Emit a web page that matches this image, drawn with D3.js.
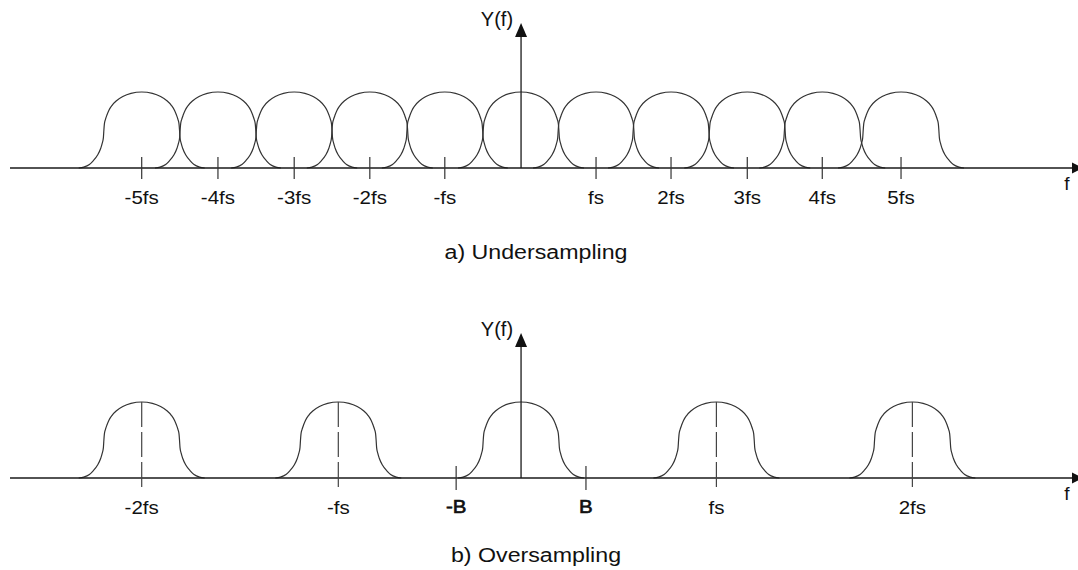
<!DOCTYPE html>
<html>
<head>
<meta charset="utf-8">
<script src="https://cdn.jsdelivr.net/npm/d3@7"></script>
<style>
  body { margin: 0; background: #fff; }
  svg text { font-family: "Liberation Sans", Arial, sans-serif; fill: #111; }
</style>
</head>
<body>
<div id="chart"></div>
<script>
// frequency unit = B (signal bandwidth)
// half profile of one spectral copy: offset from centre (in B) -> relative height
const profileOffsets = [0, 0.17, 0.30, 0.40, 0.47, 0.52, 0.55, 0.575, 0.592, 0.60, 0.608, 0.625, 0.65, 0.70, 0.77, 0.83, 0.92, 1.0];
const profileHeights = [1, 0.982, 0.94, 0.885, 0.825, 0.76, 0.70, 0.64, 0.58, 0.50, 0.40, 0.33, 0.26, 0.17, 0.095, 0.046, 0.011, 0];

// a) undersampling: copies centred on multiples of fs (fs < 2B)
const underCenters = [-6.02, -4.81, -3.60, -2.40, -1.21, 0, 1.19, 2.38, 3.59, 4.78, 6.03];
const underLabels = ['-5fs', '-4fs', '-3fs', '-2fs', '-fs', '', 'fs', '2fs', '3fs', '4fs', '5fs'];

// b) oversampling: copies well separated (fs > 2B)
const overCenters = [-6.02, -2.90, 0, 3.10, 6.21];
const overLabels = ['-2fs', '-fs', '', 'fs', '2fs'];
const bandEdges = [-1.03, 1.03];
const bandLabels = ['-B', 'B'];

const width = 1078, height = 570;

const svg = d3.select('#chart').append('svg')
    .attr('width', width)
    .attr('height', height);

const x = d3.scaleLinear().domain([-8.11, 8.87]).range([10, 1080]);

// full pulse shape from the half profile
const pulse = profileOffsets.slice().reverse().map((o, i, arr) => [-o, profileHeights[arr.length - 1 - i]])
    .concat(profileOffsets.slice(1).map((o, i) => [o, profileHeights[i + 1]]));

// labels in the source are a little wider than the font
function wideText(sel, px, py, stretch) {
    return sel.attr('transform', d => `translate(${px(d)},${py(d)}) scale(${stretch},1)`);
}

function drawPanel(axisY, centers, labels, dashed, caption, captionY) {
    const y = d3.scaleLinear().domain([0, 1]).range([axisY, axisY - 76]);
    const g = svg.append('g');

    const line = d3.line()
        .x(d => x(d[0]))
        .y(d => y(d[1]))
        .curve(d3.curveMonotoneX);

    // spectral copies
    g.selectAll('.copy')
        .data(centers)
        .enter()
        .append('path')
        .attr('class', 'copy')
        .attr('d', c => line(pulse.map(p => [c + p[0], p[1]])))
        .attr('fill', 'none')
        .attr('stroke', '#333')
        .attr('stroke-width', 1.2);

    // frequency axis
    g.append('line')
        .attr('x1', x.range()[0]).attr('x2', x.range()[1] - 6)
        .attr('y1', axisY).attr('y2', axisY)
        .attr('stroke', '#1a1a1a').attr('stroke-width', 1.3);
    g.append('path')
        .attr('d', `M${x.range()[1] - 8},${axisY - 5.5}L${x.range()[1] + 3},${axisY}L${x.range()[1] - 8},${axisY + 5.5}Z`)
        .attr('fill', '#111');
    g.append('text')
        .attr('x', 1067).attr('y', axisY + 22)
        .attr('text-anchor', 'middle')
        .style('font-size', '19px')
        .text('f');

    // Y(f) axis
    const y0 = x(0);
    g.append('line')
        .attr('x1', y0).attr('x2', y0)
        .attr('y1', axisY).attr('y2', axisY - 132)
        .attr('stroke', '#1a1a1a').attr('stroke-width', 1.3);
    g.append('path')
        .attr('d', `M${y0 - 6},${axisY - 131}L${y0},${axisY - 145}L${y0 + 6},${axisY - 131}Z`)
        .attr('fill', '#111');
    g.append('text')
        .attr('x', y0 - 8).attr('y', axisY - 142)
        .attr('text-anchor', 'end')
        .style('font-size', '20px')
        .text('Y(f)');

    // marks at copy centres
    const marked = centers.map((c, i) => ({ c, label: labels[i] })).filter(d => d.label !== '');
    g.selectAll('.mark')
        .data(marked)
        .enter()
        .append('line')
        .attr('class', 'mark')
        .attr('x1', d => x(d.c)).attr('x2', d => x(d.c))
        .attr('y1', dashed ? y(1) : axisY - 11)
        .attr('y2', axisY + 11)
        .attr('stroke', dashed ? '#444' : '#333')
        .attr('stroke-width', 1.2)
        .attr('stroke-dasharray', dashed ? '25,5' : null);

    wideText(g.selectAll('.mark-label')
        .data(marked)
        .enter()
        .append('text')
        .attr('class', 'mark-label')
        .attr('text-anchor', 'middle')
        .style('font-size', '18px')
        .text(d => d.label), d => x(d.c), () => axisY + 36, 1.14);

    wideText(svg.append('text')
        .datum(caption)
        .attr('text-anchor', 'middle')
        .style('font-size', '20px')
        .text(caption), () => 536, () => captionY, 1.16);

    return g;
}

drawPanel(168, underCenters, underLabels, false, 'a) Undersampling', 259);
const lower = drawPanel(478, overCenters, overLabels, true, 'b) Oversampling', 562);

// band edges of the baseband copy
lower.selectAll('.edge')
    .data(bandEdges)
    .enter()
    .append('line')
    .attr('class', 'edge')
    .attr('x1', d => x(d)).attr('x2', d => x(d))
    .attr('y1', 478 - 12).attr('y2', 478 + 12)
    .attr('stroke', '#333').attr('stroke-width', 1.2);

wideText(lower.selectAll('.edge-label')
    .data(bandEdges)
    .enter()
    .append('text')
    .attr('class', 'edge-label')
    .attr('text-anchor', 'middle')
    .style('font-size', '18px')
    .style('stroke', '#111')
    .style('stroke-width', 0.6)
    .text((d, i) => bandLabels[i]), d => x(d), () => 478 + 35, 1.14);
</script>
</body>
</html>
